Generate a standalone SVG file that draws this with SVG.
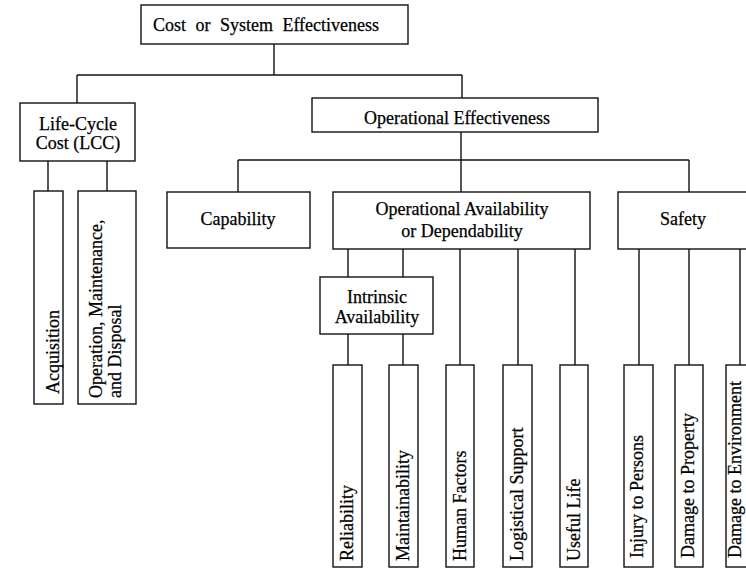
<svg xmlns="http://www.w3.org/2000/svg" width="746" height="569" viewBox="0 0 746 569">
  <style>
    rect.box { fill: #fff; stroke: #111; stroke-width: 1.4; }
    text { font-family: "Liberation Serif", "Times New Roman", serif; font-size: 18px; fill: #000; stroke: #000; stroke-width: 0.25; }
    text.c { text-anchor: middle; }
    #connectors line { stroke: #111; stroke-width: 1.4; }
  </style>
  <rect width="746" height="569" fill="#fff"/>

  <g id="connectors">
    <line x1="274" y1="44" x2="274" y2="75"/>
    <line x1="77" y1="75" x2="462" y2="75"/>
    <line x1="77" y1="75" x2="77" y2="103"/>
    <line x1="462" y1="75" x2="462" y2="98"/>
    <line x1="48" y1="161" x2="48" y2="191"/>
    <line x1="107" y1="161" x2="107" y2="191"/>
    <line x1="461" y1="132" x2="461" y2="192"/>
    <line x1="238" y1="160" x2="689" y2="160"/>
    <line x1="238" y1="160" x2="238" y2="192"/>
    <line x1="689" y1="160" x2="689" y2="192"/>
    <line x1="348" y1="249" x2="348" y2="277"/>
    <line x1="403" y1="249" x2="403" y2="277"/>
    <line x1="460" y1="249" x2="460" y2="365"/>
    <line x1="518" y1="249" x2="518" y2="365"/>
    <line x1="575" y1="249" x2="575" y2="365"/>
    <line x1="348" y1="334" x2="348" y2="365"/>
    <line x1="403" y1="334" x2="403" y2="365"/>
    <line x1="639" y1="249" x2="639" y2="365"/>
    <line x1="689" y1="249" x2="689" y2="365"/>
    <line x1="740" y1="249" x2="740" y2="365"/>
  </g>

  <g id="cost-effectiveness">
    <rect class="box" x="141" y="5" width="267" height="39"/>
    <text class="c" x="266" y="31" style="word-spacing:5px">Cost or System Effectiveness</text>
  </g>

  <g id="lcc">
    <rect class="box" x="20" y="103" width="115" height="58"/>
    <text class="c" x="78" y="130">Life-Cycle</text>
    <text class="c" x="78" y="149">Cost (LCC)</text>
  </g>

  <g id="acquisition">
    <rect class="box" x="34" y="191" width="29" height="213"/>
    <text transform="translate(59,394) rotate(-90)">Acquisition</text>
  </g>

  <g id="operation-maintenance-disposal">
    <rect class="box" x="78" y="191" width="58" height="213"/>
    <text transform="translate(102,398) rotate(-90)">Operation, Maintenance,</text>
    <text transform="translate(121,398) rotate(-90)">and Disposal</text>
  </g>

  <g id="operational-effectiveness">
    <rect class="box" x="312" y="98" width="286" height="34"/>
    <text class="c" x="457" y="124">Operational Effectiveness</text>
  </g>

  <g id="capability">
    <rect class="box" x="167" y="192" width="143" height="56"/>
    <text class="c" x="238" y="225">Capability</text>
  </g>

  <g id="operational-availability">
    <rect class="box" x="333" y="192" width="257" height="57"/>
    <text class="c" x="462" y="215">Operational Availability</text>
    <text class="c" x="462" y="237">or Dependability</text>
  </g>

  <g id="safety">
    <rect class="box" x="618" y="192" width="142" height="57"/>
    <text class="c" x="683" y="225">Safety</text>
  </g>

  <g id="intrinsic-availability">
    <rect class="box" x="320" y="277" width="113" height="57"/>
    <text class="c" x="377" y="303">Intrinsic</text>
    <text class="c" x="377" y="323">Availability</text>
  </g>

  <g id="reliability">
    <rect class="box" x="333" y="365" width="29" height="202"/>
    <text transform="translate(353,561) rotate(-90)">Reliability</text>
  </g>

  <g id="maintainability">
    <rect class="box" x="389" y="365" width="29" height="202"/>
    <text transform="translate(409,561) rotate(-90)">Maintainability</text>
  </g>

  <g id="human-factors">
    <rect class="box" x="446" y="365" width="28" height="202"/>
    <text transform="translate(466,561) rotate(-90)">Human Factors</text>
  </g>

  <g id="logistical-support">
    <rect class="box" x="503" y="365" width="29" height="202"/>
    <text transform="translate(523,561) rotate(-90)">Logistical Support</text>
  </g>

  <g id="useful-life">
    <rect class="box" x="560" y="365" width="28" height="202"/>
    <text transform="translate(580,561) rotate(-90)">Useful Life</text>
  </g>

  <g id="injury-to-persons">
    <rect class="box" x="624" y="365" width="29" height="202"/>
    <text transform="translate(643,558) rotate(-90)">Injury to Persons</text>
  </g>

  <g id="damage-to-property">
    <rect class="box" x="675" y="365" width="28" height="202"/>
    <text transform="translate(694,558) rotate(-90)">Damage to Property</text>
  </g>

  <g id="damage-to-environment">
    <rect class="box" x="726" y="365" width="34" height="202"/>
    <text transform="translate(741,558) rotate(-90)">Damage to Environment</text>
  </g>
</svg>
